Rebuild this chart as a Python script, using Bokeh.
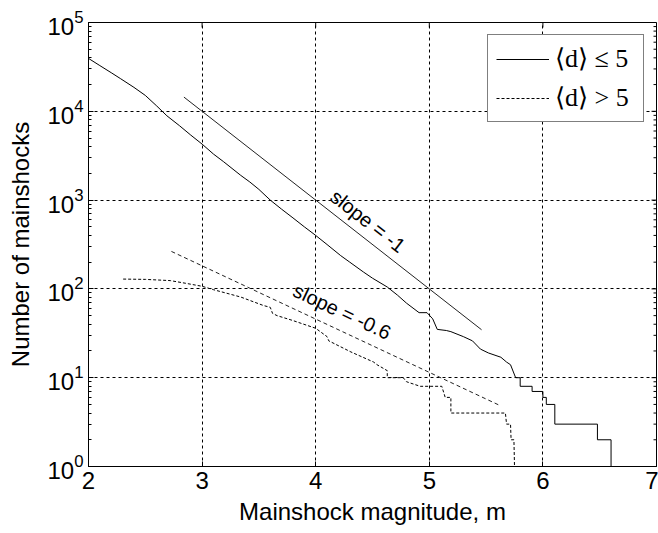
import math
from bokeh.plotting import figure
from bokeh.models import FixedTicker, Legend, LegendItem
from bokeh.core.properties import value
from bokeh.embed import file_html
from bokeh.resources import INLINE

# Cumulative number of mainshocks with magnitude >= m, mean depth <= 5
shallow_m = [2.00, 2.10, 2.20, 2.28, 2.40, 2.50, 2.60, 2.69, 2.80, 2.90,
             3.00, 3.10, 3.19, 3.34, 3.42, 3.50, 3.60, 3.70, 3.80, 3.90,
             4.00, 4.10, 4.22, 4.30, 4.42, 4.50, 4.63, 4.72, 4.80, 4.91,
             4.98, 5.03, 5.07, 5.15, 5.19, 5.30, 5.38, 5.45, 5.52, 5.63,
             5.68, 5.715, 5.76, 5.80, 5.80, 5.905, 5.905, 6.00, 6.00, 6.03,
             6.03, 6.105, 6.105, 6.48, 6.48, 6.60, 6.60]
shallow_n = [39400, 32700, 27200, 23400, 18600, 15100, 11500, 8900, 6900, 5400,
             4270, 3300, 2700, 1900, 1600, 1320, 1000, 790, 630, 500,
             400, 316, 237, 200, 155, 132, 105, 85, 69, 54,
             54, 46, 35, 34, 33, 29, 26, 21, 19, 17,
             15, 14, 10, 10, 8, 8, 7, 7, 6, 6,
             5, 5, 3, 3, 2, 2, 1]

# Cumulative number of mainshocks, mean depth > 5
deep_m = [2.305, 2.50, 2.72, 2.85, 3.00, 3.10, 3.34, 3.54, 3.60, 3.62,
          3.66, 3.80, 4.00, 4.10, 4.115, 4.31, 4.51, 4.54, 4.63, 4.63,
          4.77, 4.80, 4.92, 5.11, 5.14, 5.19, 5.19, 5.67, 5.68, 5.715,
          5.72, 5.745, 5.75]
deep_n = [129, 128, 124, 116, 107, 98, 81, 65, 62, 53,
          50, 44, 36, 29, 26, 19.5, 15, 14, 12, 10,
          10, 9, 8, 8, 6, 6, 4, 4, 3, 3,
          2, 2, 1]

# Reference power laws: log10 N = intercept + slope * m
ref_steep_slope = -1.0
ref_steep_intercept = 7.0
ref_steep_m = [2.84, 5.46]
ref_flat_slope = -0.6
ref_flat_intercept = 4.06
ref_flat_m = [2.73, 5.63]

x_ticks = [2, 3, 4, 5, 6, 7]
y_decades = [1, 10, 100, 1000, 10000, 100000]
legend_labels = ["⟨d⟩ ≤ 5", "⟨d⟩ > 5"]
slope_labels = ["slope = -1", "slope = -0.6"]

FONT = "Liberation Sans"
X0, X1 = 2, 7
Y0, Y1 = 1, 1e5

p = figure(width=658, height=533, x_range=(X0, X1), y_range=(Y0, Y1),
           y_axis_type="log", output_backend="svg", toolbar_location=None,
           min_border_left=88, min_border_right=2, min_border_top=22,
           min_border_bottom=67)
p.background_fill_color = "white"
p.border_fill_color = "white"
p.outline_line_color = "black"
p.outline_line_width = 1
p.outline_line_alpha = 1.0

# axes
xa = p.xaxis[0]
xa.ticker = FixedTicker(ticks=x_ticks, minor_ticks=[])
xa.axis_label = "Mainshock magnitude, m"
ya = p.yaxis[0]
ya.axis_label = "Number of mainshocks"
for ax in (xa, ya):
    ax.major_label_text_font = FONT
    ax.major_label_text_font_size = "24px"
    ax.major_label_text_color = "black"
    ax.axis_label_text_font = FONT
    ax.axis_label_text_font_size = "24px"
    ax.axis_label_text_font_style = "normal"
    ax.axis_label_text_color = "black"
    ax.major_tick_in = 5
    ax.major_tick_out = 0
    ax.minor_tick_in = 3
    ax.minor_tick_out = 0
    ax.axis_line_color = "black"
    ax.major_tick_line_color = "black"
    ax.minor_tick_line_color = "black"
xa.major_label_standoff = 5
xa.axis_label_standoff = 6
ya.major_label_standoff = 5
ya.axis_label_standoff = 10

# dashed grid
p.grid.grid_line_color = "black"
p.grid.grid_line_dash = "3 3"
p.grid.grid_line_alpha = 1.0
p.grid.grid_line_width = 1

# inward ticks along the top and right edges (half of each dash is clipped)
top_ticks = x_ticks[1:-1]
p.scatter(top_ticks, [Y1] * len(top_ticks), marker="dash", size=10,
          angle=math.pi / 2, line_color="black", line_width=1)
p.scatter([X1] * len(y_decades), y_decades, marker="dash", size=10,
          line_color="black", line_width=1)
y_minor = [k * d for d in y_decades[:-1] for k in range(2, 10)]
p.scatter([X1] * len(y_minor), y_minor, marker="dash", size=6,
          line_color="black", line_width=1)

# reference power-law lines
steep_n = [10 ** (ref_steep_intercept + ref_steep_slope * m) for m in ref_steep_m]
flat_n = [10 ** (ref_flat_intercept + ref_flat_slope * m) for m in ref_flat_m]
p.line(ref_steep_m, steep_n, line_color="#222222", line_width=1)
p.line(ref_flat_m, flat_n, line_color="#222222", line_width=1, line_dash="4 3")

# data curves
r_shallow = p.line(shallow_m, shallow_n, line_color="black", line_width=1)
r_deep = p.line(deep_m, deep_n, line_color="black", line_width=1, line_dash="3 2")

# slope annotations
p.text(x=[4.46, 4.233], y=[580, 55.6], text=slope_labels,
       angle=[-0.663, -0.438], text_align="center", text_baseline="middle",
       text_font=value(FONT), text_font_size="20px", text_color="black")

legend = Legend(items=[LegendItem(label=legend_labels[0], renderers=[r_shallow]),
                       LegendItem(label=legend_labels[1], renderers=[r_deep])],
                location="top_right", margin=12, padding=8, spacing=8,
                label_height=30, glyph_height=30, glyph_width=53,
                label_standoff=6, label_width=80,
                label_text_font="Liberation Serif", label_text_font_size="26px",
                label_text_color="black",
                border_line_color="black", border_line_width=1,
                background_fill_color="white", background_fill_alpha=1.0)
p.add_layout(legend)

open("out.html", "w").write(file_html(p, INLINE))
